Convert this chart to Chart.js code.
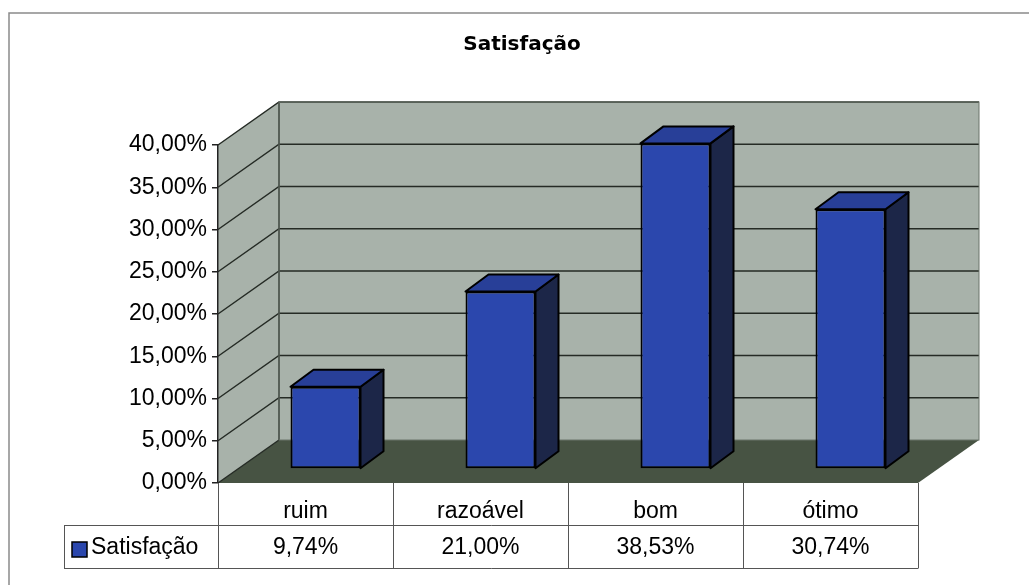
<!DOCTYPE html>
<html>
<head>
<meta charset="utf-8">
<script src="https://cdn.jsdelivr.net/npm/chart.js@4.4.1/dist/chart.umd.min.js"></script>
<style>
  html, body { margin: 0; padding: 0; background: #fff; }
  #wrap { width: 1029px; height: 585px; }
</style>
</head>
<body>
<div id="wrap"><canvas id="chart" width="1029" height="585"></canvas></div>
<script>
const chartTitle = 'Satisfação';
const seriesName = 'Satisfação';
const categories = ['ruim', 'razoável', 'bom', 'ótimo'];
const values = [9.74, 21.00, 38.53, 30.74];
const yTicks = [0, 5, 10, 15, 20, 25, 30, 35, 40];

// 3D look: wall depth, bar offset inside the floor, bar depth
const DEPTH = { x: 61, y: -43 };
const BAR_SHIFT = { x: 20, y: -14 };
const BAR_DEPTH = { x: 23, y: -17 };

const colors = {
  wall: '#a8b2aa',
  floor: '#475343',
  grid: '#252b25',
  front: '#2b47ad',
  top: '#283f98',
  side: '#1c2648',
  table: '#555'
};

function pct(v) { return v.toFixed(2).replace('.', ',') + '%'; }

const font = "'Liberation Sans', Arial, sans-serif";

const scene3d = {
  id: 'scene3d',
  beforeDraw(chart) {
    const { ctx, chartArea: a } = chart;
    const ys = chart.scales.y;
    const dx = DEPTH.x, dy = DEPTH.y;
    ctx.save();
    // outer frame
    ctx.strokeStyle = '#8a8a8a';
    ctx.lineWidth = 1.5;
    ctx.beginPath();
    ctx.moveTo(9, 585); ctx.lineTo(9, 13); ctx.lineTo(1029, 13);
    ctx.stroke();

    // back wall
    ctx.fillStyle = colors.wall;
    ctx.fillRect(a.left + dx, a.top + dy, a.right - a.left, a.bottom - a.top);
    // left wall
    ctx.beginPath();
    ctx.moveTo(a.left, a.top); ctx.lineTo(a.left + dx, a.top + dy);
    ctx.lineTo(a.left + dx, a.bottom + dy); ctx.lineTo(a.left, a.bottom);
    ctx.closePath(); ctx.fill();
    // floor
    ctx.fillStyle = colors.floor;
    ctx.beginPath();
    ctx.moveTo(a.left, a.bottom); ctx.lineTo(a.left + dx, a.bottom + dy);
    ctx.lineTo(a.right + dx, a.bottom + dy); ctx.lineTo(a.right, a.bottom);
    ctx.closePath(); ctx.fill();

    // grid on the walls
    ctx.strokeStyle = colors.grid;
    ctx.lineWidth = 1.5;
    ys.ticks.forEach(t => {
      const y = ys.getPixelForValue(t.value);
      ctx.beginPath();
      ctx.moveTo(a.left, y); ctx.lineTo(a.left + dx, y + dy);
      if (t.value > 0) ctx.lineTo(a.right + dx, y + dy);
      ctx.stroke();
    });
    ctx.beginPath();
    ctx.moveTo(a.left + dx, a.top + dy); ctx.lineTo(a.left + dx, a.bottom + dy);
    ctx.stroke();
    ctx.strokeStyle = '#6b746b';
    ctx.lineWidth = 1;
    ctx.strokeRect(a.left + dx, a.top + dy, a.right - a.left, a.bottom - a.top);
    ctx.restore();

    // title
    ctx.save();
    ctx.fillStyle = '#000';
    ctx.font = 'bold 20px DejaVu Sans, sans-serif';
    ctx.textAlign = 'center';
    ctx.textBaseline = 'middle';
    ctx.fillText(chartTitle, 522, 45);
    ctx.restore();
  },
  beforeDatasetsDraw(chart) {
    chart.ctx.save();
    chart.ctx.translate(BAR_SHIFT.x, BAR_SHIFT.y);
  },
  afterDatasetsDraw(chart) {
    const ctx = chart.ctx;
    const dx = BAR_DEPTH.x, dy = BAR_DEPTH.y;
    ctx.lineWidth = 2;
    ctx.strokeStyle = '#000';
    ctx.lineJoin = 'round';
    chart.getDatasetMeta(0).data.forEach(bar => {
      const { x, y, base, width } = bar.getProps(['x', 'y', 'base', 'width'], true);
      const l = x - width / 2, r = x + width / 2;
      ctx.fillStyle = colors.side;
      ctx.beginPath();
      ctx.moveTo(r, y); ctx.lineTo(r + dx, y + dy);
      ctx.lineTo(r + dx, base + dy); ctx.lineTo(r, base);
      ctx.closePath(); ctx.fill(); ctx.stroke();
      ctx.fillStyle = colors.top;
      ctx.beginPath();
      ctx.moveTo(l, y); ctx.lineTo(l + dx, y + dy);
      ctx.lineTo(r + dx, y + dy); ctx.lineTo(r, y);
      ctx.closePath(); ctx.fill(); ctx.stroke();
    });
    ctx.restore();
  },
  afterDraw(chart) {
    const { ctx, chartArea: a } = chart;
    const xs = chart.scales.x;
    const half = (xs.getPixelForValue(1) - xs.getPixelForValue(0)) / 2;
    const r1top = a.bottom, r1bot = xs.bottom, r2bot = xs.bottom + 43;
    const legendLeft = 64;
    ctx.save();
    ctx.strokeStyle = colors.table;
    ctx.lineWidth = 1;
    ctx.beginPath();
    categories.forEach((c, i) => {
      const bx = Math.round(xs.getPixelForValue(i) - half) + 0.5;
      ctx.moveTo(bx, r1top); ctx.lineTo(bx, r2bot);
    });
    const rx = Math.round(a.right) + 0.5;
    ctx.moveTo(rx, r1top); ctx.lineTo(rx, r2bot);
    ctx.moveTo(legendLeft + 0.5, r1bot); ctx.lineTo(legendLeft + 0.5, r2bot);
    ctx.moveTo(legendLeft, r1bot + 0.5); ctx.lineTo(rx, r1bot + 0.5);
    ctx.moveTo(legendLeft, r2bot + 0.5); ctx.lineTo(rx, r2bot + 0.5);
    ctx.stroke();

    ctx.fillStyle = '#000';
    ctx.font = '23px ' + font;
    ctx.textAlign = 'center';
    ctx.textBaseline = 'middle';
    const my = (r1bot + r2bot) / 2 + 1;
    values.forEach((v, i) => ctx.fillText(pct(v), xs.getPixelForValue(i), my));

    // legend key
    ctx.fillStyle = colors.front;
    ctx.fillRect(72, 542, 15, 15);
    ctx.strokeStyle = '#000';
    ctx.lineWidth = 1.5;
    ctx.strokeRect(72, 542, 15, 15);
    ctx.fillStyle = '#000';
    ctx.textAlign = 'left';
    ctx.fillText(seriesName, 91, my);
    ctx.restore();
  }
};

new Chart(document.getElementById('chart'), {
  type: 'bar',
  data: {
    labels: categories,
    datasets: [{
      label: seriesName,
      data: values,
      backgroundColor: colors.front,
      borderColor: '#000',
      borderWidth: 2,
      borderSkipped: false,
      categoryPercentage: 1,
      barPercentage: 0.4,
      clip: false
    }]
  },
  options: {
    responsive: false,
    devicePixelRatio: 1,
    animation: false,
    layout: { padding: { left: 0, right: 111, top: 145, bottom: 60 } },
    plugins: { legend: { display: false }, tooltip: { enabled: false }, title: { display: false } },
    scales: {
      x: {
        grid: { display: false },
        border: { display: false },
        ticks: { color: '#000', font: { family: font, size: 23 }, padding: 7 },
        afterFit(scale) { scale.height = 42; }
      },
      y: {
        min: 0,
        max: 40,
        afterBuildTicks(scale) { scale.ticks = yTicks.map(v => ({ value: v })); },
        afterFit(scale) { scale.width = 218; },
        grid: { drawOnChartArea: false, drawTicks: true, tickLength: 6, color: '#222', lineWidth: 1.5 },
        border: { display: true, color: '#222', width: 1.5 },
        ticks: { color: '#000', font: { family: font, size: 23 }, padding: 5, callback: v => pct(v) }
      }
    }
  },
  plugins: [scene3d]
});
</script>
</body>
</html>
